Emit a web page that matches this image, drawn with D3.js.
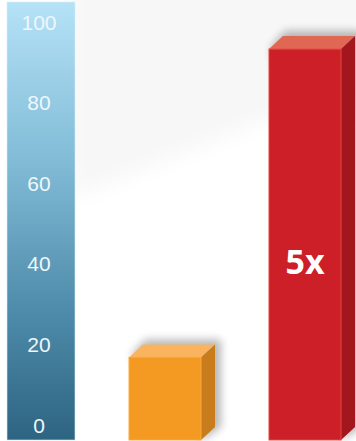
<!DOCTYPE html>
<html>
<head>
<meta charset="utf-8">
<script src="https://cdn.jsdelivr.net/npm/d3@7"></script>
<style>
  html, body { margin: 0; padding: 0; background: #ffffff; }
  svg { display: block; }
</style>
</head>
<body>
<svg id="chart" width="356" height="441"></svg>
<script>
// Chart data
const categories = ["A", "B"];
const values = [20.5, 97];
const tickValues = [0, 20, 40, 60, 80, 100];
const tickLabels = ["0", "20", "40", "60", "80", "100"];
const annotation = "5x";

// Face colours per bar: front, top, side
const palette = [
  { front: "#f49a22", top: "#fbb35e", side: "#c97c1b", edge: "#f7a93f" },
  { front: "#cc1f27", top: "#e06753", side: "#a3161d", edge: "#e4493d" }
];

const svg = d3.select("#chart");
const defs = svg.append("defs");

// scales
const y = d3.scaleLinear().domain([0, 100]).range([440, 37]);
const x = d3.scaleBand().domain(categories).range([129, 341]).paddingInner(0.4857).paddingOuter(0);
const depthX = 14, depthY = 13;

// soft grey wash in the upper background
defs.append("filter").attr("id", "wash").attr("x", "-20%").attr("y", "-20%").attr("width", "140%").attr("height", "140%")
  .append("feGaussianBlur").attr("stdDeviation", 10);
svg.append("polygon")
  .attr("points", [[70, -20], [370, -20], [370, 110], [270, 118], [80, 195], [70, 195]].map(p => p.join(",")).join(" "))
  .attr("fill", "#f7f7f7")
  .attr("filter", "url(#wash)");

// axis column gradient
const grad = defs.append("linearGradient").attr("id", "axisGrad")
  .attr("x1", 0).attr("y1", 0).attr("x2", 0).attr("y2", 1);
grad.append("stop").attr("offset", "0%").attr("stop-color", "#b5e2f7");
grad.append("stop").attr("offset", "35%").attr("stop-color", "#83bdd8");
grad.append("stop").attr("offset", "70%").attr("stop-color", "#4f8cab");
grad.append("stop").attr("offset", "100%").attr("stop-color", "#2d6482");

svg.append("rect")
  .attr("x", 7).attr("y", 2).attr("width", 68).attr("height", 438)
  .attr("fill", "url(#axisGrad)")
  .attr("stroke", "#d6eef9").attr("stroke-opacity", 0.6).attr("stroke-width", 1);

// tick labels inside the column
svg.append("g").selectAll("text")
  .data(tickValues)
  .join("text")
  .attr("x", 39)
  .attr("y", d => y(d) - 15)
  .attr("text-anchor", "middle")
  .attr("dominant-baseline", "central")
  .attr("font-family", "Liberation Sans, Arial, sans-serif")
  .attr("font-size", 21)
  .attr("fill", "#eef7fb")
  .text((d, i) => tickLabels[i]);

// shadow filter for the boxes
const sh = defs.append("filter").attr("id", "shadow").attr("x", "-50%").attr("y", "-50%").attr("width", "200%").attr("height", "200%");
sh.append("feGaussianBlur").attr("stdDeviation", 4);

const bars = svg.append("g").selectAll("g.bar")
  .data(categories.map((c, i) => ({ c, v: values[i], col: palette[i] })))
  .join("g").attr("class", "bar");

// shadow silhouette
bars.append("polygon")
  .attr("points", d => {
    const x0 = x(d.c), x1 = x0 + x.bandwidth(), t = y(d.v), b = y(0);
    return [[x0 + 2, t - 2], [x0 + depthX + 2, t - depthY - 5], [x1 + depthX + 6, t - depthY - 5], [x1 + depthX + 6, b - depthY], [x1 + 2, b]]
      .map(p => p.join(",")).join(" ");
  })
  .attr("fill", "#000").attr("opacity", 0.28)
  .attr("filter", "url(#shadow)");

// top face
bars.append("polygon")
  .attr("points", d => {
    const x0 = x(d.c), x1 = x0 + x.bandwidth(), t = y(d.v);
    return [[x0, t], [x0 + depthX, t - depthY], [x1 + depthX, t - depthY], [x1, t]].map(p => p.join(",")).join(" ");
  })
  .attr("fill", d => d.col.top);

// side face
bars.append("polygon")
  .attr("points", d => {
    const x1 = x(d.c) + x.bandwidth(), t = y(d.v), b = y(0);
    return [[x1, t], [x1 + depthX, t - depthY], [x1 + depthX, b - depthY], [x1, b]].map(p => p.join(",")).join(" ");
  })
  .attr("fill", d => d.col.side);

// front face
bars.append("rect")
  .attr("x", d => x(d.c))
  .attr("y", d => y(d.v))
  .attr("width", x.bandwidth())
  .attr("height", d => y(0) - y(d.v))
  .attr("fill", d => d.col.front)
  .attr("stroke", d => d.col.edge)
  .attr("stroke-width", 1);

// ratio annotation on the tall bar
svg.append("text")
  .attr("x", x(categories[1]) + x.bandwidth() / 2)
  .attr("y", 261)
  .attr("text-anchor", "middle")
  .attr("dominant-baseline", "central")
  .attr("font-family", "Open Sans, sans-serif")
  .attr("font-weight", 700)
  .attr("font-size", 34)
  .attr("fill", "#ffffff")
  .text(annotation);
</script>
</body>
</html>
